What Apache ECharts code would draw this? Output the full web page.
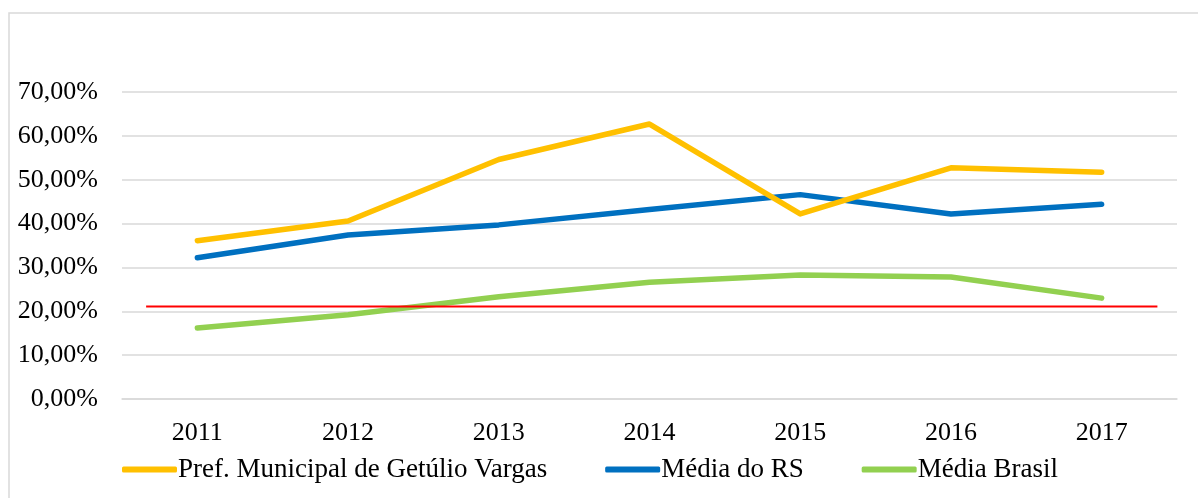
<!DOCTYPE html>
<html>
<head>
	<meta charset="utf-8">
	<title>Getúlio Vargas</title>
	<script src="https://cdn.jsdelivr.net/npm/echarts@6/dist/echarts.min.js"></script>
	<style>
		html, body { margin: 0; padding: 0; background: #fff; }
	</style>
</head>
<body>
	<div id="main" style="width: 1198px;height:498px;"></div>
	<script type="text/javascript">
		const years = ['2011', '2012', '2013', '2014', '2015', '2016', '2017'];
		const prefGV = [36.1, 40.6, 54.6, 62.7, 42.2, 52.7, 51.7];
		const mediaRS = [32.2, 37.4, 39.7, 43.2, 46.6, 42.2, 44.4];
		const mediaBrasil = [16.2, 19.2, 23.3, 26.6, 28.3, 27.8, 23.0];
		// reference line, drawn on a hidden 0..7 value axis
		const refLevel = 21.1;
		const refSpan = [0.16, 6.87];

		const font = "'Liberation Serif', 'Times New Roman', serif";
		const myChart = echarts.init(document.getElementById('main'));

		const options = {
			animation: false,
			textStyle: { fontFamily: font },
			graphic: [{
				type: 'rect',
				shape: { x: 9, y: 13, width: 1200, height: 500 },
				style: { fill: 'none', stroke: '#d9d9d9', lineWidth: 1.5 },
				silent: true
			}],
			grid: { left: 122, right: 21, top: 92, bottom: 99 },
			legend: {
				data: ['Pref. Municipal de Getúlio Vargas', 'Média do RS', 'Média Brasil'],
				left: 117,
				top: 451,
				itemWidth: 55,
				itemHeight: 6,
				itemGap: 58,
				icon: 'roundRect',
				textStyle: { fontFamily: font, fontSize: 27, color: '#000', padding: [0, 0, 0, -4] }
			},
			xAxis: [{
				type: 'category',
				data: years,
				boundaryGap: true,
				axisLine: { lineStyle: { color: '#d9d9d9', width: 1.5 } },
				axisTick: { show: false },
				axisLabel: { fontFamily: font, fontSize: 26, color: '#000', margin: 21 }
			}, {
				type: 'value',
				min: 0,
				max: 7,
				show: false
			}],
			yAxis: {
				type: 'value',
				min: 0,
				max: 70,
				interval: 10,
				axisLine: { show: false },
				axisTick: { show: false },
				splitLine: { lineStyle: { color: '#d9d9d9', width: 1.5 } },
				axisLabel: {
					fontFamily: font, fontSize: 26, color: '#000', margin: 24,
					formatter: v => v.toFixed(2).replace('.', ',') + '%'
				}
			},
			series: [{
				name: 'Média Brasil',
				type: 'line',
				data: mediaBrasil,
				symbol: 'none',
				color: '#92D050',
				lineStyle: { width: 5.5, cap: 'round', join: 'round' }
			}, {
				name: 'Referência',
				type: 'line',
				xAxisIndex: 1,
				data: refSpan.map(x => [x, refLevel]),
				symbol: 'none',
				color: '#FF0000',
				lineStyle: { width: 2 }
			}, {
				name: 'Média do RS',
				type: 'line',
				data: mediaRS,
				symbol: 'none',
				color: '#0070C0',
				lineStyle: { width: 5.5, cap: 'round', join: 'round' }
			}, {
				name: 'Pref. Municipal de Getúlio Vargas',
				type: 'line',
				data: prefGV,
				symbol: 'none',
				color: '#FFC000',
				lineStyle: { width: 5.5, cap: 'round', join: 'round' }
			}]
		};

		myChart.setOption(options);
	</script>
</body>
</html>
